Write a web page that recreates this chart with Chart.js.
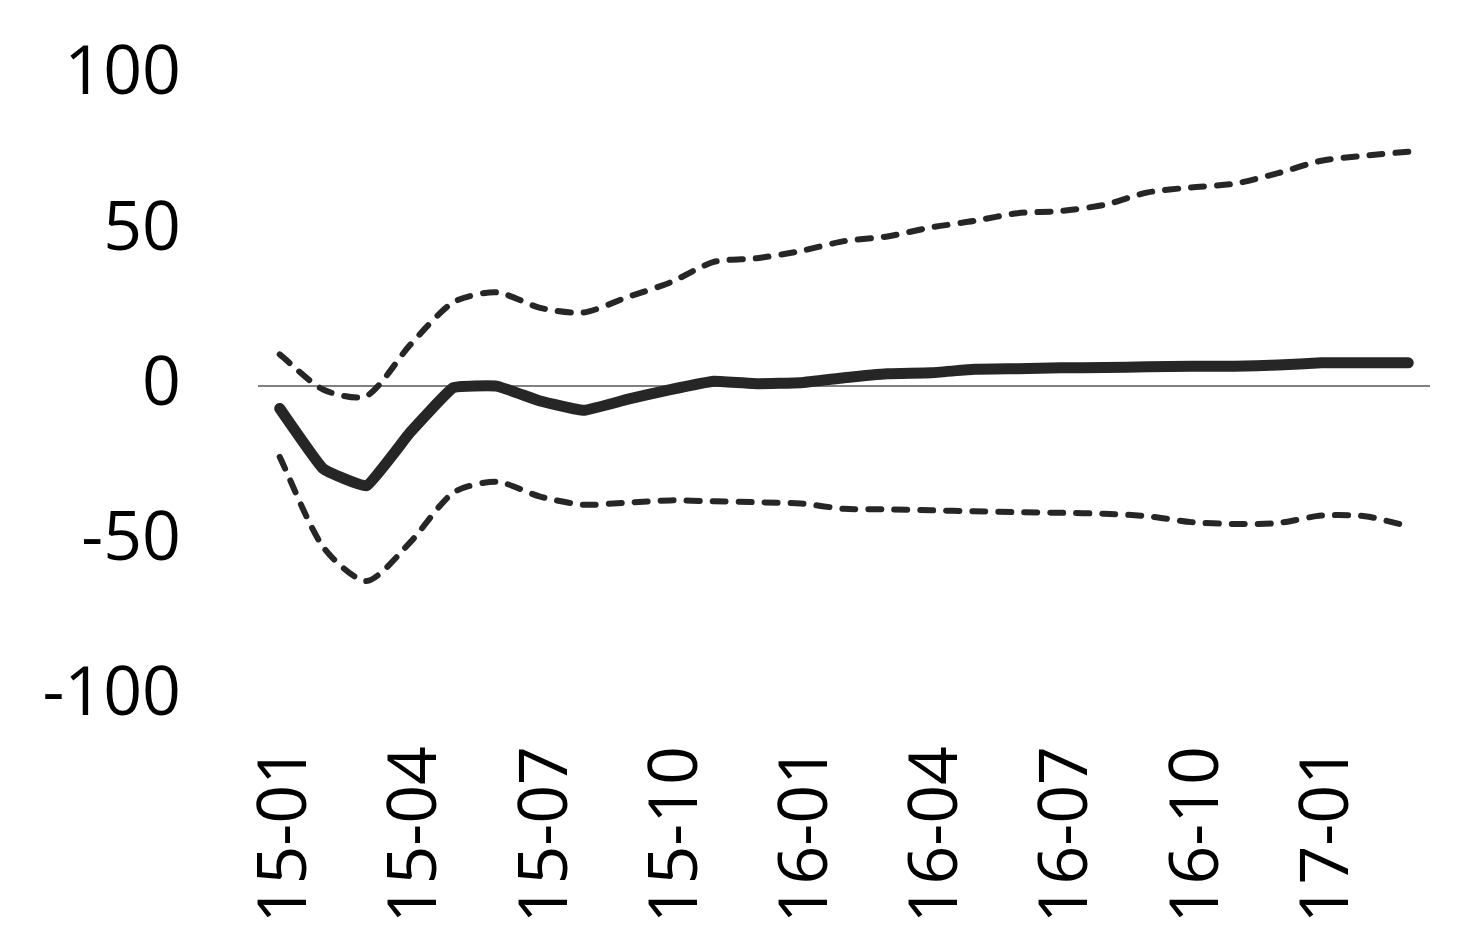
<!DOCTYPE html>
<html>
<head>
<meta charset="utf-8">
<script src="https://cdn.jsdelivr.net/npm/chart.js@4"></script>
<style>
  body { margin: 0; background: #fff; }
  #wrap { width: 1482px; height: 947px; }
</style>
</head>
<body>
<div id="wrap"><canvas id="chart"></canvas></div>
<script>
const months = [
  "15-01", "15-02", "15-03", "15-04", "15-05", "15-06", "15-07", "15-08", "15-09",
  "15-10", "15-11", "15-12", "16-01", "16-02", "16-03", "16-04", "16-05", "16-06",
  "16-07", "16-08", "16-09", "16-10", "16-11", "16-12", "17-01", "17-02", "17-03"
];

const central = [
  -7.4, -26.8, -32.3, -15.2, -0.7, -0.2, -5, -8, -4.5,
  -1.3, 1.4, 0.6, 0.9, 2.5, 3.8, 4.1, 5.2, 5.4,
  5.7, 5.8, 6, 6.2, 6.2, 6.6, 7.3, 7.3, 7.3
];

const upper = [
  10, -1.3, -3.4, 13, 26.8, 30, 25, 23.5, 28.4,
  33.2, 39.8, 41, 43.3, 46.5, 48, 50.9, 53, 55.5,
  56.2, 58.2, 62.2, 63.8, 65, 68.4, 72.4, 74, 75.3
];

const lower = [
  -23, -52, -63, -50.6, -34.5, -31, -35.8, -38.4, -37.7,
  -37, -37.3, -37.6, -38, -39.7, -39.9, -40.2, -40.5, -40.8,
  -41, -41.3, -42.1, -44, -44.6, -44.3, -41.9, -42.1, -45.3
];

const yTicks = [-100, -50, 0, 50, 100];

const lineColor = "#262626";
const font = { family: "'Open Sans', sans-serif", size: 68 };

const dashed = (data) => ({
  data: data,
  borderColor: lineColor,
  borderWidth: 6,
  borderDash: [13, 13],
  borderCapStyle: "round",
  pointRadius: 0,
  tension: 0.25,
  fill: false
});

new Chart(document.getElementById("chart"), {
  type: "line",
  data: {
    labels: months,
    datasets: [
      dashed(upper),
      dashed(lower),
      {
        data: central,
        borderColor: lineColor,
        borderWidth: 11,
        borderCapStyle: "round",
        borderJoinStyle: "round",
        pointRadius: 0,
        tension: 0.1,
        fill: false
      }
    ]
  },
  options: {
    responsive: true,
    maintainAspectRatio: false,
    animation: false,
    layout: { padding: { top: 75, right: 52, bottom: 0, left: 0 } },
    plugins: { legend: { display: false }, tooltip: { enabled: false } },
    scales: {
      x: {
        offset: true,
        border: { display: false },
        grid: { display: false, drawTicks: false },
        afterFit: (axis) => {
          axis.height = 251;
          axis.paddingLeft = 0;
          axis.paddingRight = 0;
        },
        ticks: {
          color: "#000",
          font: font,
          autoSkip: false,
          minRotation: 90,
          maxRotation: 90,
          padding: 50,
          labelOffset: 7,
          callback: function (value, index) {
            return index % 3 === 0 ? months[index] : "";
          }
        }
      },
      y: {
        min: -100,
        max: 100,
        border: { display: false },
        afterBuildTicks: (axis) => { axis.ticks = yTicks.map((v) => ({ value: v })); },
        afterFit: (axis) => {
          axis.width = 258;
          axis.paddingTop = 0;
          axis.paddingBottom = 0;
        },
        grid: {
          drawTicks: false,
          lineWidth: 2,
          color: (ctx) => (ctx.tick && ctx.tick.value === 0 ? "#808080" : "rgba(0,0,0,0)")
        },
        ticks: { color: "#000", font: font, padding: 77 }
      }
    }
  }
});
</script>
</body>
</html>
